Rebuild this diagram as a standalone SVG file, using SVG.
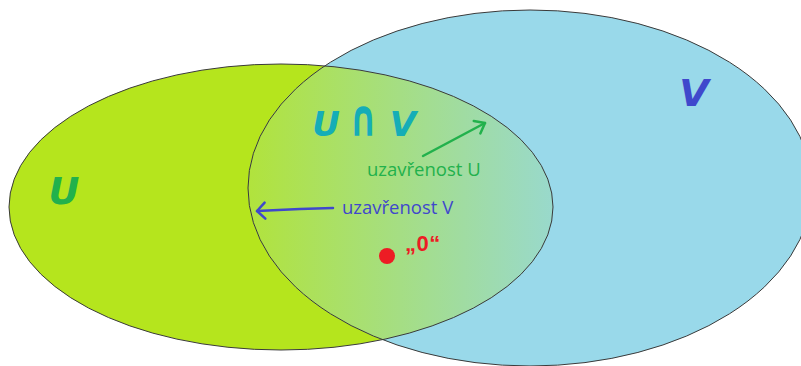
<svg xmlns="http://www.w3.org/2000/svg" width="801" height="366" viewBox="0 0 801 366">
  <style>
    .outline { fill: none; stroke: #3a3a3a; stroke-width: 1; }
    .big { font-family: "DejaVu Sans", sans-serif; font-weight: bold; font-style: italic; }
    .label { font-family: "Open Sans", sans-serif; font-size: 18.5px; }
  </style>
  <defs>
    <linearGradient id="lensGrad" gradientUnits="userSpaceOnUse" x1="248" y1="0" x2="553" y2="0">
      <stop offset="0" stop-color="#b1e33c"/>
      <stop offset="1" stop-color="#99d9cc"/>
    </linearGradient>
    <clipPath id="clipU">
      <ellipse cx="281" cy="207" rx="272" ry="143"/>
    </clipPath>
    <marker id="openArrowG" viewBox="-11 -8 13 16" refX="0" refY="0" markerWidth="13" markerHeight="16" markerUnits="userSpaceOnUse" orient="auto" overflow="visible">
      <path d="M-9,-7 L0,0 L-9,7" fill="none" stroke="#22b14c" stroke-width="2.5" stroke-linecap="round" stroke-linejoin="round"/>
    </marker>
    <marker id="openArrowB" viewBox="-11 -8 13 16" refX="0" refY="0" markerWidth="13" markerHeight="16" markerUnits="userSpaceOnUse" orient="auto" overflow="visible">
      <path d="M-8,-8 L0,0 L-8,8" fill="none" stroke="#3f48cc" stroke-width="2.5" stroke-linecap="round" stroke-linejoin="round"/>
    </marker>
  </defs>

  <g id="set-U">
    <ellipse cx="281" cy="207" rx="272" ry="143" fill="#b5e51d"/>
    <text class="big" x="64" y="204" font-size="38" fill="#22b14c" text-anchor="middle">U</text>
  </g>

  <g id="set-V">
    <ellipse cx="530" cy="188" rx="282" ry="178" fill="#99d9ea"/>
    <text class="big" x="694" y="106" font-size="38" fill="#3f48cc" text-anchor="middle">V</text>
  </g>

  <g id="intersection">
    <ellipse cx="530" cy="188" rx="282" ry="178" fill="url(#lensGrad)" clip-path="url(#clipU)"/>
    <ellipse class="outline" cx="281" cy="207" rx="272" ry="143"/>
    <ellipse class="outline" cx="530" cy="188" rx="282" ry="178"/>
    <g fill="#15adb7">
      <text class="big" x="326" y="136" font-size="34" text-anchor="middle">U</text>
      <text class="big" transform="translate(363,136) scale(1,1.5)" font-size="34" text-anchor="middle">∩</text>
      <text class="big" x="403" y="136" font-size="34" text-anchor="middle">V</text>
    </g>
  </g>

  <g id="zero">
    <circle cx="387" cy="256" r="8" fill="#ed1c24"/>
    <text x="405" y="251" font-family="Liberation Sans, sans-serif" font-weight="bold" font-size="22" letter-spacing="0.5" fill="#ed1c24">„0“</text>
  </g>

  <g id="connectors">
    <line x1="423" y1="156" x2="485" y2="123" stroke="#22b14c" stroke-width="2.5" stroke-linecap="round" marker-end="url(#openArrowG)"/>
    <path d="M333,208 L300,209 L257,211" fill="none" stroke="#3f48cc" stroke-width="2.5" stroke-linecap="round" marker-end="url(#openArrowB)"/>
  </g>

  <g id="labels">
    <text class="label" x="367" y="176" fill="#22b14c">uzavřenost U</text>
    <text class="label" x="342" y="214" fill="#3f48cc">uzavřenost V</text>
  </g>
</svg>
